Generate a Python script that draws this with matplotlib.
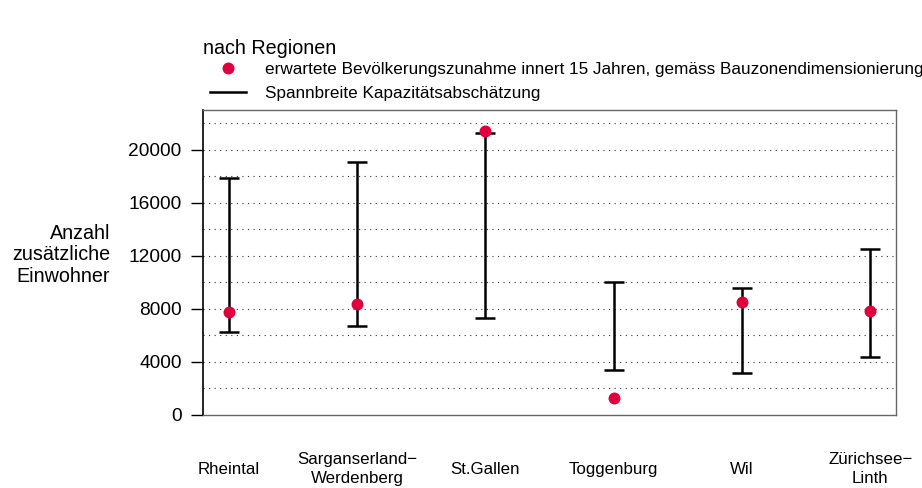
import matplotlib
matplotlib.use("Agg")
import matplotlib.pyplot as plt
from matplotlib.lines import Line2D
import numpy as np

plt.rcParams['font.family'] = ['Liberation Sans', 'DejaVu Sans']

regions = ["Rheintal", "Sarganserland−\nWerdenberg", "St.Gallen", "Toggenburg", "Wil", "Zürichsee−\nLinth"]
expected = [7750, 8350, 21400, 1250, 8500, 7850]
range_low = [6250, 6700, 7350, 3400, 3150, 4400]
range_high = [17900, 19050, 21300, 10050, 9550, 12550]
yticks = [0, 4000, 8000, 12000, 16000, 20000]

red = '#E2003C'

fig = plt.figure(figsize=(9.22, 4.88), dpi=100)
ax = fig.add_axes([0.2202, 0.1496, 0.7516, 0.625])

x = np.arange(1, len(regions) + 1)
low = np.array(range_low)
high = np.array(range_high)
ax.errorbar(x, low, yerr=[np.zeros_like(low), high - low], fmt='none',
            ecolor='black', elinewidth=1.8, capsize=7.4, capthick=1.8, zorder=3)
ax.plot(x, expected, 'o', color=red, markersize=8.6, zorder=4, markeredgewidth=0)

ax.set_xlim(0.8, 6.2)
ax.set_ylim(0, 23000)
ax.set_yticks(yticks)
ax.set_yticklabels([str(v) for v in yticks], fontsize=13.8)
for g in range(2000, 23000, 2000):
    ax.axhline(g, color='#333333', linestyle=(0, (1, 4)), linewidth=0.8, zorder=1)

ax.set_xticks(x)
ax.set_xticklabels(regions, fontsize=12.2, linespacing=1.28)
for lbl in ax.get_xticklabels():
    lbl.set_verticalalignment('center')
ax.tick_params(axis='x', length=0, pad=39)
ax.tick_params(axis='y', length=8.4, width=1.0, color='black', pad=7)

for s in ['top', 'right', 'bottom']:
    ax.spines[s].set_color('#666666')
    ax.spines[s].set_linewidth(1.0)
ax.spines['left'].set_color('black')
ax.spines['left'].set_linewidth(1.2)

fig.text(110 / 922, 0.4775, "Anzahl\nzusätzliche\nEinwohner", ha='right', va='center',
         multialignment='right', fontsize=14.2, linespacing=1.18)
fig.text(0.2202, 1 - 48 / 488, "nach Regionen", ha='left', va='center', fontsize=14.2)

handles = [Line2D([], [], marker='o', color=red, linestyle='none', markersize=8.6, markeredgewidth=0),
           Line2D([], [], color='black', linewidth=1.8)]
labels = ["erwartete Bevölkerungszunahme innert 15 Jahren, gemäss Bauzonendimensionierung",
          "Spannbreite Kapazitätsabschätzung"]
fig.legend(handles, labels, loc='upper left', bbox_to_anchor=(210 / 922, 1 - 62 / 488), frameon=False,
           fontsize=12.3, handlelength=2.1, handletextpad=1.1, labelspacing=0.52,
           borderaxespad=0, borderpad=0)

fig.savefig("out.png", dpi=100)
